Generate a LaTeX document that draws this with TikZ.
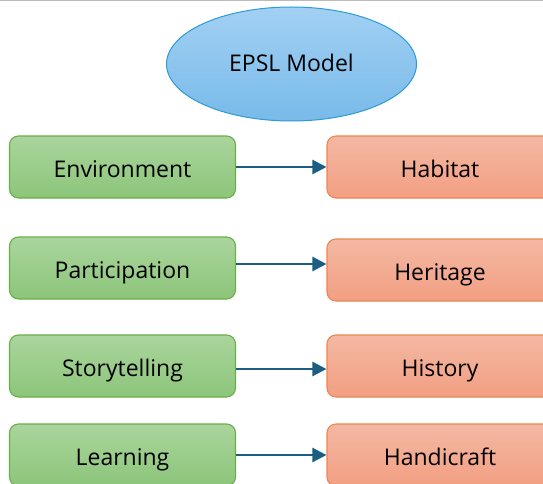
\documentclass[tikz,border=0pt]{standalone}
\usepackage{fontspec}
\setmainfont{Open Sans}
\usepackage{tikz}
\usetikzlibrary{shapes.geometric,arrows.meta}
\definecolor{greenedge}{HTML}{6AAF48}
\definecolor{greentop}{HTML}{AAD59D}
\definecolor{greenbottom}{HTML}{8CC57A}
\definecolor{orangeedge}{HTML}{EF8550}
\definecolor{orangetop}{HTML}{F4B8A3}
\definecolor{orangebottom}{HTML}{F29F82}
\definecolor{blueedge}{HTML}{2E9BD6}
\definecolor{bluetop}{HTML}{A2D0F3}
\definecolor{bluebottom}{HTML}{78BAE9}
\definecolor{arrowblue}{HTML}{1B5E82}
\definecolor{topline}{HTML}{BBBBBB}
\tikzstyle{greenbox} = [draw=greenedge, line width=1.1pt, top color=greentop,
    bottom color=greenbottom, rectangle, rounded corners=9pt,
    minimum width=226pt, minimum height=62pt, text height=21pt, text depth=0pt,
    font=\fontsize{23}{27}\selectfont]
\tikzstyle{orangebox} = [greenbox, draw=orangeedge, top color=orangetop,
    bottom color=orangebottom]
\tikzstyle{modelellipse} = [draw=blueedge, line width=1pt, top color=bluetop,
    bottom color=bluebottom, ellipse, inner sep=0pt, minimum width=250pt,
    minimum height=114pt, text height=15pt, text depth=0pt,
    font=\fontsize{23}{27}\selectfont]
\tikzstyle{linkarrow} = [draw=arrowblue, line width=2.4pt,
    -{Triangle[length=14pt,width=14pt]}]

\begin{document}
\begin{tikzpicture}[x=1pt,y=-1pt]
                \useasboundingbox (0,0) rectangle (543,484);
                \clip (0,0) rectangle (543,484);
                \fill[white] (0,0) rectangle (543,484);
                \draw[topline, line width=1.5pt] (0,0.75) -- (543,0.75);
                \node [modelellipse] (model) at (291.5,64) {EPSL Model};
                \node [greenbox] (environment) at (122.5,167) {Environment};
                \node [greenbox] (participation) at (122.5,268) {Participation};
                \node [greenbox] (storytelling) at (122.5,366) {Storytelling};
                \node [greenbox] (learning) at (122.5,455) {Learning};
                \node [orangebox] (habitat) at (440,167) {Habitat};
                \node [orangebox] (heritage) at (440,270) {Heritage};
                \node [orangebox] (history) at (440,366) {History};
                \node [orangebox] (handicraft) at (440,455) {Handicraft};
                \draw [linkarrow] (environment.east) -- (environment.east -| habitat.west);
                \draw [linkarrow] ([yshift=4pt]participation.east) -- ([yshift=4pt]participation.east -| heritage.west);
                \draw [linkarrow] ([yshift=-3pt]storytelling.east) -- ([yshift=-3pt]storytelling.east -| history.west);
                \draw [linkarrow] (learning.east) -- (learning.east -| handicraft.west);
            \end{tikzpicture}
\end{document}
